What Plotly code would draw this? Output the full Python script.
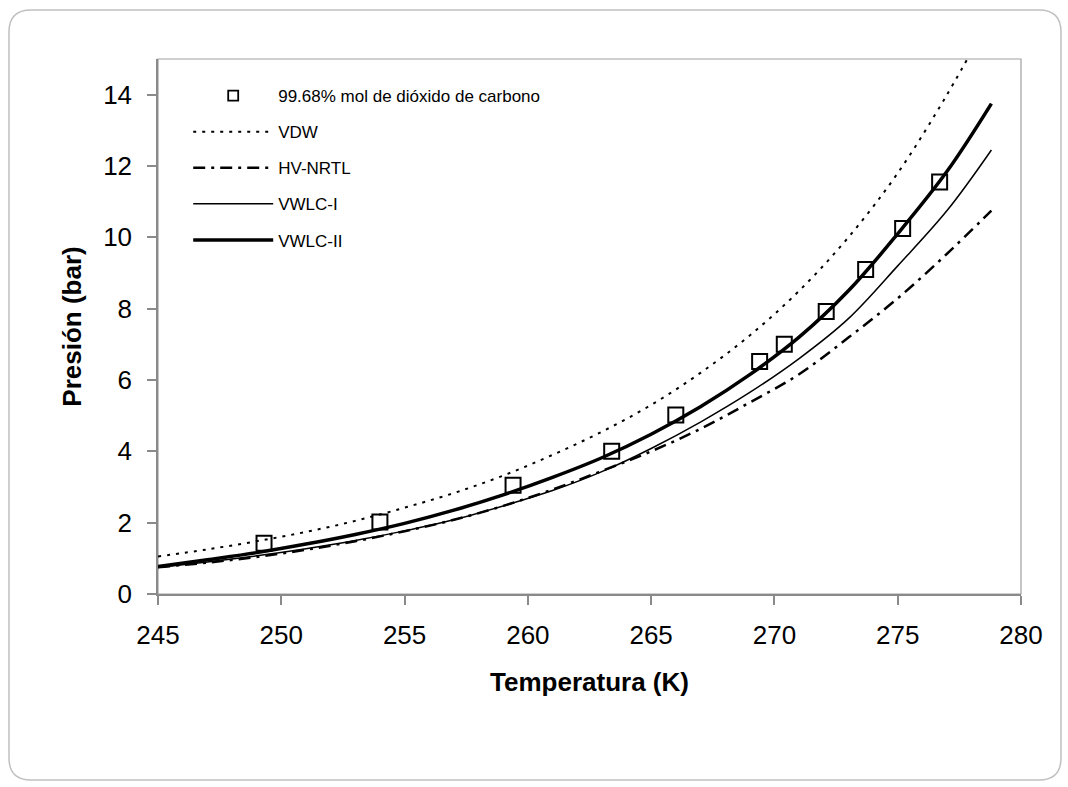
import plotly.graph_objects as go

# ---- data ----
T_exp = [249.3, 254.0, 259.4, 263.4, 266.0, 269.4, 270.4, 272.1, 273.7, 275.2, 276.7]
P_exp = [1.42, 2.02, 3.05, 4.00, 5.02, 6.52, 7.00, 7.92, 9.10, 10.25, 11.55]

T_vdw = [245, 247, 249, 251, 253, 255, 257, 259, 261, 263, 265, 267, 269, 271, 273, 275, 277, 278.3]
P_vdw = [1.05, 1.25, 1.48, 1.74, 2.05, 2.42, 2.83, 3.32, 3.90, 4.55, 5.30, 6.20, 7.25, 8.50, 10.0, 11.8, 14.0, 15.6]

T_calc = [245, 247, 249, 251, 253, 255, 257, 259, 261, 263, 265, 267, 269, 271, 273, 275, 277, 278.8]
P_hv = [0.75, 0.88, 1.04, 1.24, 1.48, 1.76, 2.08, 2.47, 2.93, 3.45, 4.00, 4.63, 5.37, 6.16, 7.19, 8.29, 9.54, 10.75]
P_v1 = [0.75, 0.90, 1.07, 1.27, 1.50, 1.77, 2.08, 2.47, 2.90, 3.43, 4.08, 4.82, 5.65, 6.60, 7.72, 9.20, 10.75, 12.45]
P_v2 = [0.77, 0.96, 1.16, 1.40, 1.67, 1.98, 2.35, 2.78, 3.27, 3.82, 4.48, 5.25, 6.15, 7.20, 8.50, 10.10, 11.85, 13.75]

x_ticks = [245, 250, 255, 260, 265, 270, 275, 280]
y_ticks = [0, 2, 4, 6, 8, 10, 12, 14]

FONT = "Liberation Sans, Arial, sans-serif"
W, H = 1068, 787
ML, MR, MT, MB = 158, 47, 59, 193
PW, PH = W - ML - MR, H - MT - MB

fig = go.Figure()

fig.add_trace(go.Scatter(x=T_exp, y=P_exp, mode="markers", showlegend=False,
                         marker=dict(symbol="square-open", size=15, color="black", line=dict(width=2, color="black"))))
# legend entry for the experimental points (smaller symbol, as in the reference legend)
fig.add_trace(go.Scatter(x=[None], y=[None], mode="markers", name="99.68% mol de dióxido de carbono",
                         legendgroup="a",
                         marker=dict(symbol="square-open", size=10, color="black", line=dict(width=1.8, color="black"))))
fig.add_trace(go.Scatter(x=T_vdw, y=P_vdw, mode="lines", name="VDW", legendgroup="b",
                         line=dict(color="black", width=2, dash="3px,6px", shape="spline")))
fig.add_trace(go.Scatter(x=T_calc, y=P_hv, mode="lines", name="HV-NRTL", legendgroup="c",
                         line=dict(color="black", width=2.5, dash="12px,6px,3px,6px", shape="spline")))
fig.add_trace(go.Scatter(x=T_calc, y=P_v1, mode="lines", name="VWLC-I", legendgroup="d",
                         line=dict(color="black", width=1.5, shape="spline")))
fig.add_trace(go.Scatter(x=T_calc, y=P_v2, mode="lines", name="VWLC-II", legendgroup="e",
                         line=dict(color="black", width=3.5, shape="spline")))

# rounded outer border
def px2paper(x, y):
    return (x - ML) / PW, (H - MB - y) / PH

def P(x, y):
    a, b = px2paper(x, y)
    return f"{a:.5f},{b:.5f}"

x0, y0 = 9, 10
x1, y1 = 1061, 780
r = 22
path = (f"M {P(x0 + r, y0)} L {P(x1 - r, y0)} Q {P(x1, y0)} {P(x1, y0 + r)} "
        f"L {P(x1, y1 - r)} Q {P(x1, y1)} {P(x1 - r, y1)} "
        f"L {P(x0 + r, y1)} Q {P(x0, y1)} {P(x0, y1 - r)} "
        f"L {P(x0, y0 + r)} Q {P(x0, y0)} {P(x0 + r, y0)} Z")
fig.add_shape(type="path", path=path, xref="paper", yref="paper",
              line=dict(color="#c0c0c0", width=1.5), layer="below")
# plot-area frame (top and right)
fig.add_shape(type="rect", xref="paper", yref="paper", x0=0, y0=0, x1=1, y1=1,
              line=dict(color="#a0a0a0", width=1.2), layer="below")

fig.update_layout(
    width=W, height=H,
    margin=dict(l=ML, r=MR, t=MT, b=MB),
    paper_bgcolor="white", plot_bgcolor="white",
    font=dict(family=FONT, color="black"),
    showlegend=True,
    legend=dict(x=0.035, y=0.9645, xanchor="left", yanchor="top",
                bgcolor="rgba(0,0,0,0)", font=dict(size=17, family=FONT),
                tracegroupgap=11, itemwidth=80),
    xaxis=dict(range=[245, 280], tickvals=x_ticks, ticktext=[str(v) for v in x_ticks],
               showgrid=False, zeroline=False, showline=True, linecolor="#8a8a8a", linewidth=1.5,
               ticks="outside", ticklen=9, tickcolor="#8a8a8a", tickwidth=1.5,
               tickfont=dict(size=26, family=FONT), ticklabelstandoff=8,
               title=dict(text="<b>Temperatura (K)</b>", font=dict(size=26, family=FONT), standoff=24)),
    yaxis=dict(range=[0, 15], tickvals=y_ticks, ticktext=[str(v) for v in y_ticks],
               showgrid=False, zeroline=False, showline=True, linecolor="#8a8a8a", linewidth=1.5,
               ticks="outside", ticklen=9, tickcolor="#8a8a8a", tickwidth=1.5,
               tickfont=dict(size=26, family=FONT), ticklabelstandoff=10,
               title=dict(text="<b>Presión (bar)</b>", font=dict(size=26, family=FONT), standoff=14)),
)

fig.write_html("out.html")
